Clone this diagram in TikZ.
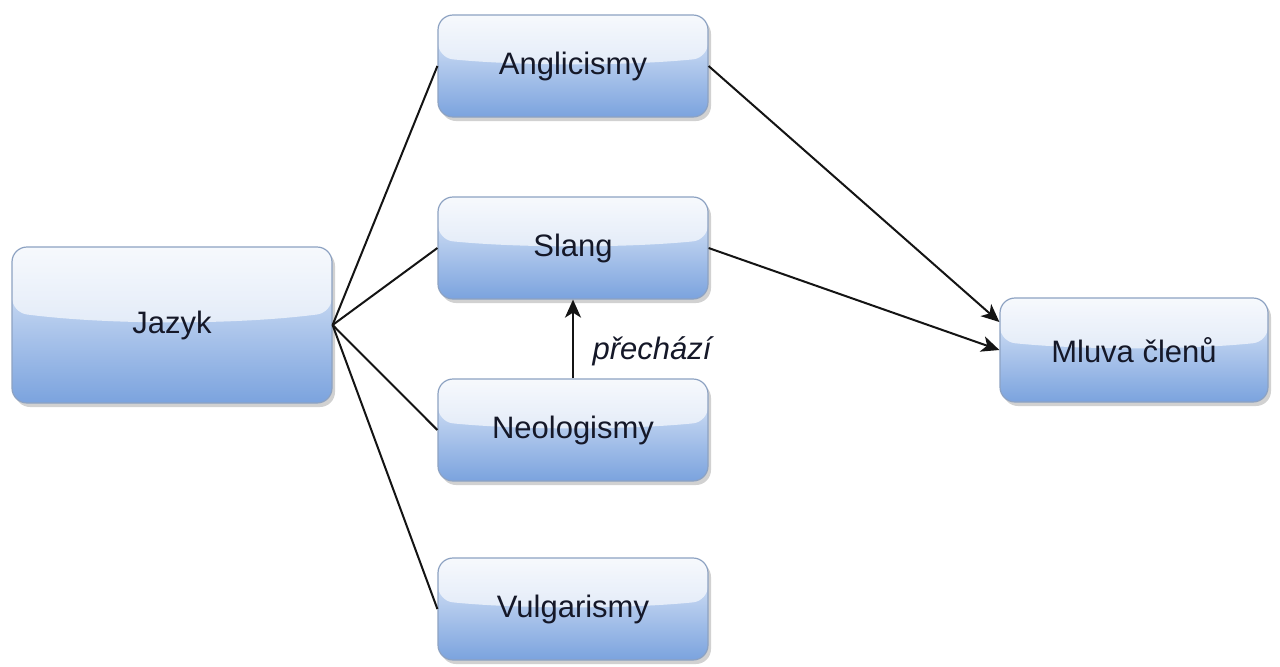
\documentclass[tikz,border=0pt]{standalone}
\usepackage{fontspec}
\setmainfont{Liberation Sans}
\usetikzlibrary{calc,shadows,arrows.meta}
\definecolor{boxtop}{HTML}{E8EFFA}
\definecolor{boxmid}{HTML}{B0C8EC}
\definecolor{boxbot}{HTML}{7BA3DE}
\definecolor{boxline}{HTML}{8DA2C2}
\definecolor{textc}{HTML}{151828}
\definecolor{linec}{HTML}{141414}
\tikzset{
  box/.style={draw=boxline, line width=0.6pt, rounded corners=7.5pt,
    top color=boxtop, bottom color=boxbot, middle color=boxmid,
    drop shadow={shadow xshift=1.5pt, shadow yshift=-2pt, fill=black!40, opacity=0.45},
    text=textc, font=\fontsize{15.5}{18}\selectfont,
    path picture={
      \path (path picture bounding box.north west) coordinate (gNW)
            (path picture bounding box.south east) coordinate (gSE);
      \fill[white, opacity=0.65] let \p1=(gNW), \p2=(gSE) in
        (\x1,\y1) -- (\x2,\y1) -- (\x2,{\y1-0.42*(\y1-\y2)})
        .. controls ({\x2-0.3*(\x2-\x1)},{\y1-0.5*(\y1-\y2)}) and ({\x1+0.3*(\x2-\x1)},{\y1-0.5*(\y1-\y2)})
        .. (\x1,{\y1-0.42*(\y1-\y2)}) -- cycle;
    }},
  smallbox/.style={box, minimum width=135pt, minimum height=51pt},
  link/.style={draw=linec, line width=1pt},
  arrow/.style={link, -{Stealth[length=9pt, width=8pt, inset=2.5pt]}},
  lbl/.style={font=\fontsize{15.5}{18}\selectfont\itshape, text=textc}
}
\begin{document}
\begin{tikzpicture}[x=0.5pt, y=-0.5pt]
  \fill[white] (0,0) rectangle (1280,666);
  \useasboundingbox (0,0) rectangle (1280,666);

  % boxes
  \node[box, minimum width=160pt, minimum height=78pt] (jz) at (172,325) {Jazyk};
  \node[smallbox] (an) at (573,66) {Anglicismy};
  \node[smallbox] (sl) at (573,248) {Slang};
  \node[smallbox] (ne) at (573,430) {Neologismy};
  \node[smallbox] (vu) at (573,609) {Vulgarismy};
  \node[box, minimum width=134pt, minimum height=52pt] (ml) at (1134,350) {Mluva členů};

  % language branches
  \draw[link] (jz.east) -- (an.west);
  \draw[link] (jz.east) -- (sl.west);
  \draw[link] (jz.east) -- (ne.west);
  \draw[link] (jz.east) -- (vu.west);

  % flows into members' speech
  \draw[arrow] (an.east) -- ([yshift=14pt]ml.west);
  \draw[arrow] (sl.east) -- (ml.west);

  % neologisms become slang
  \draw[arrow] (ne.north) -- (sl.south)
    node[lbl, pos=0.35, anchor=west, xshift=6pt] {přechází};
\end{tikzpicture}
\end{document}
